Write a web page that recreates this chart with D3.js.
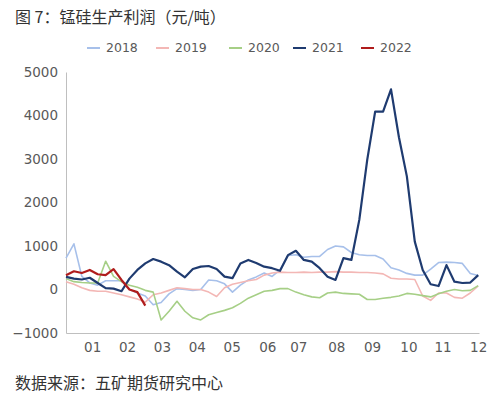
<!DOCTYPE html>
<html>
<head>
<meta charset="utf-8">
<script src="https://cdn.jsdelivr.net/npm/d3@7"></script>
<style>
  body { margin: 0; background: #fff; }
  text { font-family: "DejaVu Sans", sans-serif; }
  .cjk { font-family: "Noto Sans CJK SC", sans-serif; }
</style>
</head>
<body>
<div id="chart"></div>
<script>
// weekly samples, week 0 .. 52
var weeks = d3.range(53);
var monthLabels = ["01","02","03","04","05","06","07","08","09","10","11","12"];
var monthTickWeeks = [3.3, 7.7, 12.1, 16.5, 20.9, 25.4, 29.3, 34.1, 38.6, 43.2, 47.5, 52];
var yTicks = [-1000, 0, 1000, 2000, 3000, 4000, 5000];
var years = ["2018", "2019", "2020", "2021", "2022"];

var s2018 = [720, 1050, 300, 150, 100, 200, 200, 200, 0, -80, -150, -350, -300, -100, 20, 0,
  -20, 0, 220, 200, 130, -60, 100, 220, 290, 380, 300, 450, 780, 800, 740, 760, 760, 920,
  1000, 980, 850, 800, 780, 780, 700, 500, 450, 370, 330, 330, 470, 620, 630, 620, 600, 370, 320];
var s2019 = [180, 120, 40, -20, -40, -40, -80, -120, -170, -220, -290, -120, -80, -20, 40, 20,
  0, 0, -60, -160, 40, 120, 160, 200, 230, 330, 380, 400, 390, 390, 400, 390, 400, 400,
  410, 400, 400, 390, 390, 380, 360, 260, 240, 240, 230, -150, -250, -80, -80, -180, -200, -80, 80];
var s2020 = [250, 180, 160, 150, 150, 650, 300, 180, 100, 50, -20, -60, -700, -500, -270, -500,
  -650, -700, -580, -530, -480, -420, -320, -200, -120, -40, -20, 20, 20, -60, -120, -170, -190, -80,
  -60, -90, -100, -110, -230, -230, -200, -180, -150, -90, -110, -140, -170, -100, -40, 0, -30, -20, 90];
var s2021 = [290, 250, 230, 270, 150, 30, 20, -40, 250, 450, 600, 700, 640, 560, 410, 280,
  470, 525, 540, 470, 295, 260, 600, 680, 610, 525, 490, 430, 790, 890, 680, 640, 490, 295,
  220, 720, 680, 1600, 2980, 4090, 4090, 4600, 3500, 2600, 1100, 450, 120, 80, 560, 180, 150, 160, 330];
var s2022 = [330, 420, 380, 450, 350, 330, 470, 220, 0, -60, -370];

var seriesList = [
  { name: years[0], values: s2018, color: "#a7c0ea", width: 1.6 },
  { name: years[1], values: s2019, color: "#f3b7b5", width: 1.6 },
  { name: years[2], values: s2020, color: "#a6cf86", width: 1.6 },
  { name: years[3], values: s2021, color: "#1f3b70", width: 2.2 },
  { name: years[4], values: s2022, color: "#b01c1c", width: 2.2 }
];

var width = 500, height = 397;
var margin = { left: 66, right: 21, top: 72, bottom: 64 };

var svg = d3.select("#chart").append("svg")
  .attr("width", width).attr("height", height);

var x = d3.scaleLinear().domain([0, 52.1]).range([margin.left, width - margin.right]);
var y = d3.scaleLinear().domain([-1000, 5000]).range([height - margin.bottom, margin.top]);

// title
svg.append("text").attr("class", "cjk")
  .attr("x", 15).attr("y", 23)
  .attr("font-size", 16).attr("fill", "#333")
  .text("图 7：锰硅生产利润（元/吨）");

// legend
var legendX = [87, 156, 229, 293, 361];
var legend = svg.append("g");
seriesList.forEach(function(s, i) {
  legend.append("line")
    .attr("x1", legendX[i]).attr("x2", legendX[i] + 13)
    .attr("y1", 48).attr("y2", 48)
    .style("stroke", s.color).style("stroke-width", 2);
  legend.append("text")
    .attr("x", legendX[i] + 19).attr("y", 48).attr("dy", "0.35em")
    .attr("font-size", 12.5).attr("fill", "#595959")
    .text(s.name);
});

// axes
var yAxis = svg.append("g")
  .attr("transform", "translate(" + margin.left + ",0)")
  .call(d3.axisLeft(y).tickValues(yTicks).tickFormat(d3.format("d"))
    .tickSize(0).tickPadding(8));
yAxis.select(".domain").style("stroke", "#bfbfbf");
yAxis.selectAll("text").attr("font-size", 13.5).attr("fill", "#595959")
  .style("font-family", "DejaVu Sans, sans-serif");

var xAxis = svg.append("g")
  .attr("transform", "translate(0," + y(-1000) + ")")
  .call(d3.axisBottom(x).tickValues(monthTickWeeks)
    .tickFormat(function(d, i) { return monthLabels[i]; })
    .tickSize(0).tickPadding(9));
xAxis.select(".domain").style("stroke", "#bfbfbf");
xAxis.selectAll("text").attr("font-size", 13.5).attr("fill", "#595959")
  .style("font-family", "DejaVu Sans, sans-serif");

// lines
var line = d3.line()
  .x(function(d, i) { return x(weeks[i]); })
  .y(function(d) { return y(d); });

seriesList.forEach(function(s) {
  svg.append("path")
    .datum(s.values)
    .attr("d", line)
    .style("fill", "none")
    .style("stroke", s.color)
    .style("stroke-width", s.width)
    .style("stroke-linejoin", "round");
});

// source note
svg.append("text").attr("class", "cjk")
  .attr("x", 15).attr("y", 389)
  .attr("font-size", 16).attr("fill", "#333")
  .text("数据来源：五矿期货研究中心");
</script>
</body>
</html>
